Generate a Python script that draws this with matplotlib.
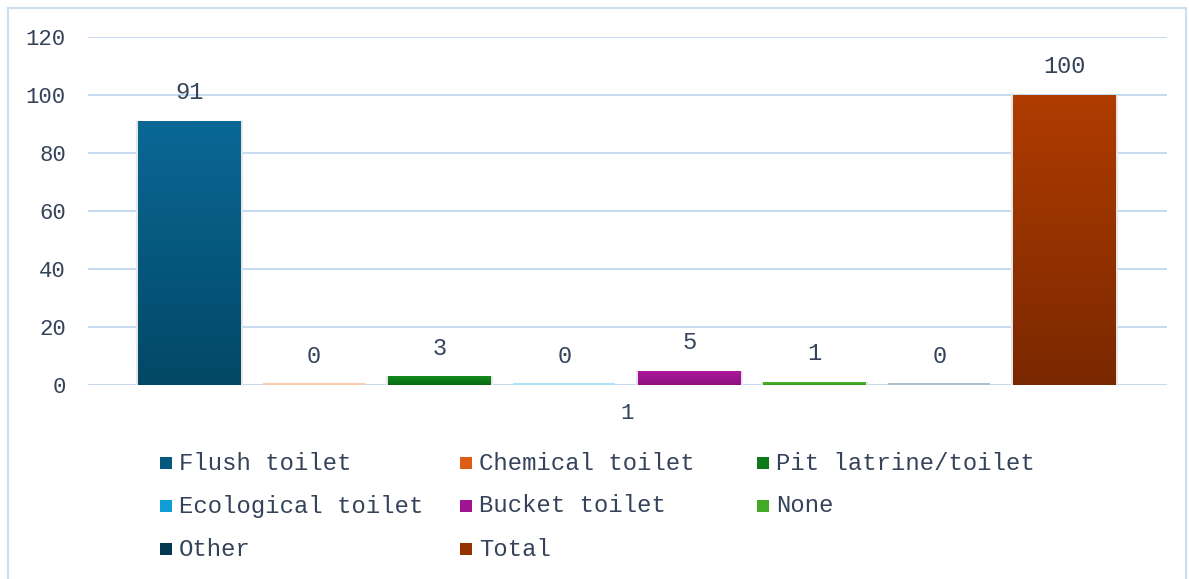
import numpy as np
import matplotlib
matplotlib.use("Agg")
import matplotlib.pyplot as plt
from matplotlib.patches import Rectangle
from matplotlib.colors import to_rgb

# Toilet facility shares (percent)
categories = ["Flush toilet", "Chemical toilet", "Pit latrine/toilet", "Ecological toilet",
              "Bucket toilet", "None", "Other", "Total"]
values = [91, 0, 3, 0, 5, 1, 0, 100]
group_label = "1"
yticks = [0, 20, 40, 60, 80, 100, 120]

# top / bottom colours of each bar's vertical gradient
top_colors = ["#0b6896", "#f26c1c", "#138a1e", "#16b0e8", "#b0189f", "#4cba2a", "#0b4a6a", "#b03c00"]
bottom_colors = ["#024866", "#c84e0e", "#0a6a14", "#0a88c0", "#8a1280", "#3a9a20", "#032638", "#7a2800"]

FONT = "Liberation Mono"
TEXT = "#34425a"
GRID = "#c5daf0"

W, H = 1189, 579
fig = plt.figure(figsize=(W / 100, H / 100), dpi=100)
fig.patch.set_facecolor("white")

# outer chart border
fig.patches.append(Rectangle((8 / W, -2 / H), (1186 - 8) / W, (571 + 2) / H,
                             transform=fig.transFigure, fill=False,
                             edgecolor="#cadef2", linewidth=1.5))

ax = fig.add_axes([88 / W, (H - 385) / H, (1167 - 88) / W, (385 - 37) / H])
ax.set_facecolor("none")
ax.set_ylim(0, 120)
xl, xr = -0.808, 7.82
ax.set_xlim(xl, xr)

for s in ax.spines.values():
    s.set_visible(False)
ax.set_yticks(yticks)
ax.set_yticklabels([str(t) for t in yticks], fontfamily=FONT, fontsize=16, color=TEXT)
ax.tick_params(axis="y", length=0, pad=16)
for t in yticks:
    ax.axhline(t, color=GRID, linewidth=1.4, zorder=0)

ax.set_xticks([3.5])
ax.set_xticklabels([group_label], fontfamily=FONT, fontsize=16, color=TEXT)
ax.tick_params(axis="x", length=0, pad=13)

width = 0.816
x = np.arange(len(values))
px_per_unit = (385 - 37) / 120.0

def blend(c, a):
    r = np.array(to_rgb(c))
    return tuple(r * a + (1 - a))

for i, v in enumerate(values):
    x0 = x[i] - width / 2
    if v > 0:
        # soft shadow under the bar
        sh_dx = 0.02
        sh_dy = 3 / px_per_unit
        ax.add_patch(Rectangle((x0 - sh_dx, -sh_dy), width + 2 * sh_dx, v + sh_dy,
                               facecolor="#e6e6e6", edgecolor="none", zorder=1))
        ax.add_patch(Rectangle((x0 + 0.01, -sh_dy), width - 0.02, sh_dy,
                               facecolor="#bdbdbd", edgecolor="none", zorder=1))
        bar = ax.bar(x[i], v, width=width, color=top_colors[i], edgecolor="none", zorder=2)[0]
        c1 = np.array(to_rgb(top_colors[i]))
        c2 = np.array(to_rgb(bottom_colors[i]))
        grad = np.linspace(0, 1, 256)[:, None]
        img = (c1[None, :] * (1 - grad) + c2[None, :] * grad)[:, None, :]
        im = ax.imshow(img, extent=[x0, x0 + width, 0, v], origin="upper",
                       aspect="auto", zorder=3, interpolation="bilinear")
        im.set_clip_path(bar)
    else:
        ax.plot([x0, x0 + width], [0.25, 0.25], color=blend(top_colors[i], 0.35),
                linewidth=1.5, zorder=3, solid_capstyle="butt")
    ax.annotate(str(v), (x[i], v), xytext=(0, 12), textcoords="offset points",
                ha="center", va="bottom", fontfamily=FONT, fontsize=17, color=TEXT)

ax.set_xlim(xl, xr)
ax.set_ylim(0, 120)

# legend in three columns
col_x = [160, 460, 757]
row_y = [463, 506, 549]
sq = 12
for k, name in enumerate(categories):
    r, c = divmod(k, 3)
    mx, my = col_x[c], row_y[r]
    mid = tuple((np.array(to_rgb(top_colors[k])) + np.array(to_rgb(bottom_colors[k]))) / 2)
    fig.patches.append(Rectangle((mx / W, (H - my - sq / 2) / H), sq / W, sq / H,
                                 transform=fig.transFigure, facecolor=mid, edgecolor="none"))
    fig.text((mx + 19) / W, (H - my) / H, name, ha="left", va="center",
             fontfamily=FONT, fontsize=17.2, color=TEXT)

fig.savefig("out.png", dpi=100)
